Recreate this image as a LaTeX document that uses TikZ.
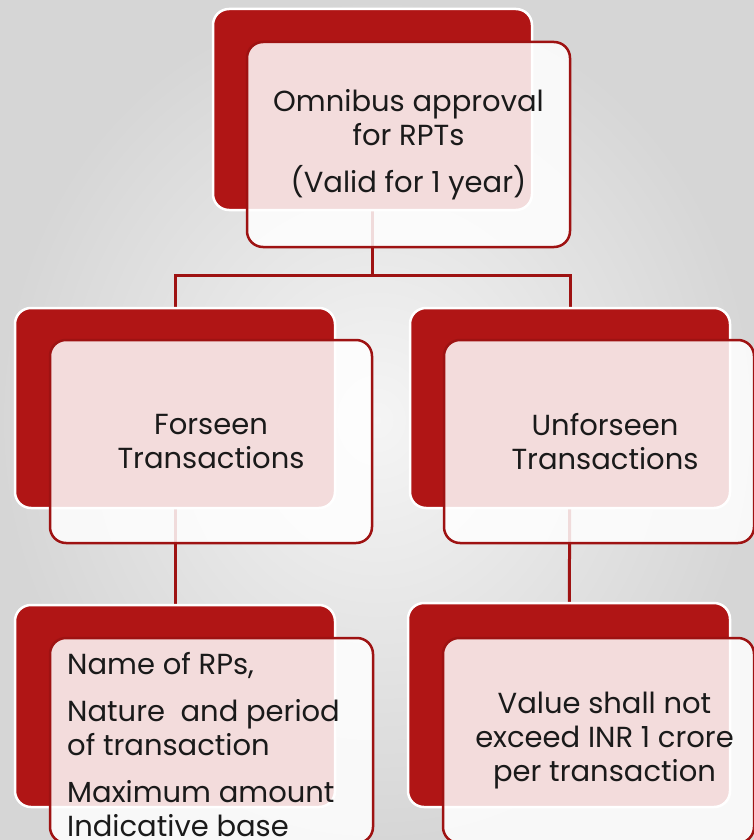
\documentclass[tikz,border=0pt]{standalone}
\usepackage{fontspec}
\setmainfont{Poppins}
\definecolor{rpred}{HTML}{B01515}
\definecolor{rpline}{HTML}{9E1212}
\definecolor{rptext}{HTML}{1A1A1A}
\begin{document}
\begin{tikzpicture}[x=1pt,y=-1pt,
  backbox/.style={draw=white, line width=2.5pt, fill=rpred, rounded corners=16pt, inner sep=0pt},
  frontbox/.style={draw=rpline, line width=2.5pt, fill=white, fill opacity=0.85, text opacity=1,
     rounded corners=16pt, inner sep=0pt, text=rptext, align=center,
     font=\fontsize{29}{34}\selectfont},
  txt/.style={text=rptext, inner sep=0pt, font=\fontsize{29}{34}\selectfont},
  conn/.style={draw=rpline, line width=3pt}]
\useasboundingbox (0,0) rectangle (754,840);
\shade[inner color=gray!8, outer color=gray!32] (0,0) rectangle (754,840);

% back boxes (positions only used for connectors first)
\path (372.5,109.5) coordinate (tbc);
\path (175,408) coordinate (mlc);
\path (570,408) coordinate (mrc);
\path (175,706) coordinate (blc);
\path (569,705) coordinate (brc);

% connectors
\draw[conn] (tbc) -- (372.5,275) coordinate (hub) -| (mlc);
\draw[conn] (hub) -| (mrc);
\draw[conn] (mlc) -- (blc);
\draw[conn] (mrc) -- (brc);

% top
\node[backbox, minimum width=319pt, minimum height=201pt] (tb) at (tbc) {};
\node[frontbox, minimum width=323pt, minimum height=205pt] (tf) at (408.5,144.5)
  {Omnibus approval\\for RPTs\\[13pt](Valid for 1 year)};

% middle left
\node[backbox, minimum width=320pt, minimum height=200pt] (ml) at (mlc) {};
\node[frontbox, minimum width=322pt, minimum height=203pt] (mlf) at (211,441.5)
  {Forseen\\Transactions};

% middle right
\node[backbox, minimum width=320pt, minimum height=200pt] (mr) at (mrc) {};
\node[frontbox, minimum width=310pt, minimum height=203pt] (mrf) at (599,441.5)
  {\hspace*{12pt}Unforseen\\\hspace*{12pt}Transactions};

% bottom left
\node[backbox, minimum width=320pt, minimum height=202pt] (bl) at (blc) {};
\node[frontbox, minimum width=323pt, minimum height=205pt] (blf) at (211.5,740.5) {};
\node[txt, anchor=north west, align=left] (blt) at (67,652)
  {Name of RPs,\\[13pt]Nature\ \ and period\\of transaction\\[13pt]Maximum amount\\Indicative base};

% bottom right
\node[backbox, minimum width=322pt, minimum height=204pt] (br) at (brc) {};
\node[frontbox, minimum width=311pt, minimum height=205pt] (brf) at (598.5,740.5)
  {\hspace*{12pt}Value shall not\\\hspace*{12pt}exceed INR 1 crore\\\hspace*{12pt}per transaction};
\end{tikzpicture}
\end{document}
